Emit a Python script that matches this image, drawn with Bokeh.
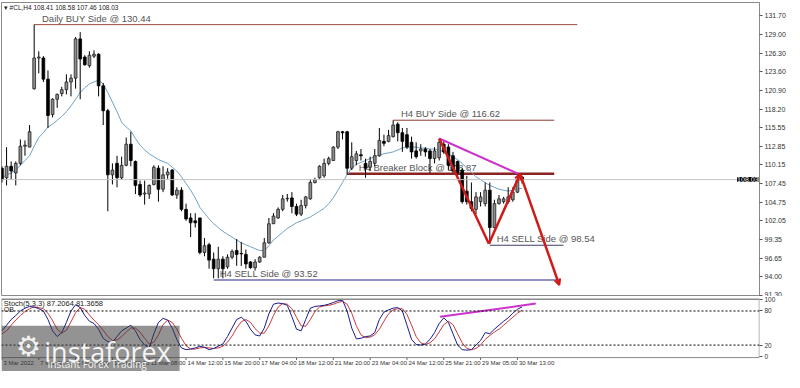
from bokeh.plotting import figure
from bokeh.models import (Range1d, FixedTicker, PrintfTickFormatter, Label, Span, Arrow,
                          OpenHead, ColumnDataSource, BoxAnnotation)
from bokeh.layouts import column
from bokeh.embed import file_html
from bokeh.resources import INLINE
from bokeh.core.properties import value

# ---------------- data ----------------
opens = [109.68, 108.30, 109.96, 108.99, 110.38, 112.87, 112.73, 121.18, 125.61, 125.61,
         122.56, 117.44, 119.65, 120.48, 121.04, 122.15, 122.70, 128.38, 125.75, 124.50,
         125.88, 126.16, 121.59, 117.99, 108.72, 110.38, 108.30, 110.10, 113.15, 110.65,
         107.33, 105.95, 105.95, 107.33, 109.68, 106.64, 108.72, 109.41, 105.81, 106.50,
         103.73, 102.49, 102.07, 102.49, 97.50, 98.61, 96.53, 95.15, 96.53, 95.42,
         96.81, 97.78, 97.36, 97.22, 96.12, 95.29, 96.12, 96.81, 98.89, 101.65,
         102.49, 103.73, 105.25, 105.39, 104.15, 103.04, 104.28, 105.25, 107.61, 108.30,
         108.58, 110.38, 110.79, 112.73, 114.95, 114.95, 109.68, 110.79, 111.62, 110.38,
         109.82, 110.38, 111.48, 113.56, 113.56, 114.25, 116.05, 114.81, 114.53, 113.42,
         112.18, 112.18, 112.45, 112.18, 111.07, 111.20, 113.15, 112.73, 111.48, 110.65,
         109.41, 106.36, 104.84, 103.73, 104.84, 104.56, 106.50, 101.10, 104.56, 104.84,
         104.84, 105.12, 106.22, 108.41]
highs = [109.96, 112.73, 110.65, 110.65, 113.84, 113.70, 115.92, 130.44, 126.58, 125.88,
         123.81, 119.79, 120.48, 121.45, 123.25, 123.25, 128.65, 129.35, 126.02, 126.58,
         126.72, 126.30, 122.01, 118.27, 110.38, 111.48, 111.35, 114.12, 114.95, 110.79,
         107.88, 107.88, 107.33, 110.10, 110.10, 109.96, 109.68, 109.55, 106.92, 106.92,
         104.56, 103.18, 103.18, 102.49, 99.58, 98.89, 97.50, 98.33, 96.95, 97.22,
         97.92, 99.44, 99.02, 97.92, 96.25, 96.53, 96.95, 99.58, 102.49, 103.18,
         104.01, 105.81, 105.95, 106.22, 104.56, 105.12, 105.67, 108.02, 108.30, 110.10,
         111.07, 111.35, 112.87, 115.08, 115.08, 115.08, 113.42, 112.18, 112.45, 111.07,
         111.35, 112.45, 115.50, 114.53, 115.22, 116.61, 116.33, 115.50, 115.50, 114.25,
         113.42, 113.15, 112.73, 112.45, 112.73, 113.84, 113.56, 113.15, 112.04, 110.79,
         109.68, 108.58, 107.61, 106.22, 106.22, 107.61, 107.61, 105.12, 105.81, 105.53,
         106.92, 106.92, 108.99, 108.58]
lows = [107.61, 107.19, 108.02, 107.19, 110.10, 111.48, 112.73, 121.04, 123.39, 122.15,
        115.50, 117.02, 118.41, 120.07, 120.35, 120.07, 121.18, 119.65, 124.50, 124.22,
        125.61, 120.07, 115.92, 103.45, 107.33, 106.92, 108.02, 109.96, 109.96, 105.95,
        105.53, 104.42, 105.25, 107.19, 104.84, 106.22, 108.16, 105.67, 105.25, 103.45,
        102.07, 99.72, 101.10, 97.22, 96.95, 95.15, 93.76, 93.76, 93.76, 95.15,
        96.53, 95.56, 95.56, 95.15, 95.15, 94.87, 95.98, 96.81, 98.75, 101.65,
        102.35, 103.45, 104.84, 103.18, 102.76, 102.76, 103.87, 105.12, 107.47, 108.16,
        108.30, 110.10, 110.79, 112.45, 113.84, 108.72, 109.41, 110.10, 110.79, 108.30,
        109.27, 109.96, 111.35, 112.87, 113.42, 114.12, 113.56, 112.04, 112.45, 111.07,
        111.07, 111.48, 111.35, 108.99, 110.38, 110.79, 111.76, 109.41, 108.99, 108.58,
        104.56, 104.42, 103.45, 103.04, 104.15, 104.15, 98.75, 100.96, 104.42, 104.56,
        104.56, 104.84, 106.08, 107.46]
closes = [108.02, 109.96, 109.27, 110.38, 112.87, 113.01, 114.95, 125.61, 125.75, 122.56,
          117.30, 119.65, 120.35, 121.04, 122.15, 122.70, 128.38, 125.47, 124.64, 126.02,
          126.16, 121.59, 117.99, 108.72, 109.41, 108.30, 110.10, 113.15, 110.79, 107.19,
          105.81, 106.08, 107.19, 109.82, 106.64, 108.72, 109.13, 105.81, 106.50, 103.73,
          102.35, 101.79, 101.79, 97.50, 98.47, 96.39, 95.15, 96.53, 95.15, 96.81,
          97.64, 97.22, 97.30, 95.84, 95.29, 96.12, 96.81, 98.89, 101.65, 102.76,
          103.73, 105.25, 105.32, 104.15, 103.04, 104.28, 105.53, 107.61, 108.02, 109.96,
          110.38, 111.07, 112.73, 114.95, 114.81, 109.68, 111.35, 111.76, 111.48, 109.68,
          110.65, 111.48, 113.70, 113.28, 114.39, 115.92, 114.81, 113.56, 112.73, 112.04,
          111.35, 112.45, 112.04, 111.07, 112.18, 113.42, 112.04, 110.10, 109.27, 108.99,
          104.84, 104.84, 103.87, 105.53, 105.53, 106.50, 101.10, 104.56, 105.25, 105.25,
          105.53, 106.22, 108.02, 108.03]
ma = [108.30, 108.72, 108.99, 109.41, 110.10, 110.79, 111.48, 112.87, 114.12, 114.81,
      115.64, 116.05, 116.61, 117.16, 117.85, 118.68, 119.65, 120.62, 121.32, 121.87,
      122.15, 122.42, 121.87, 120.62, 119.24, 117.85, 116.33, 115.64, 115.08, 113.98,
      113.01, 112.32, 111.76, 111.35, 110.93, 110.65, 110.38, 109.82, 109.27, 108.44,
      107.47, 106.50, 105.39, 104.01, 103.18, 102.35, 101.65, 101.10, 100.55, 100.13,
      99.72, 99.30, 98.89, 98.61, 98.33, 98.05, 97.78, 97.78, 98.47, 99.30,
      99.85, 100.41, 100.96, 101.38, 101.79, 102.07, 102.35, 102.62, 103.04, 103.45,
      103.87, 104.56, 105.39, 106.50, 107.61, 108.72, 109.68, 110.24, 110.52, 110.79,
      111.07, 111.35, 111.62, 111.76, 111.90, 112.04, 112.32, 112.59, 112.73, 112.73,
      112.73, 112.59, 112.59, 112.45, 112.45, 112.32, 112.04, 111.76, 111.35, 110.93,
      110.38, 109.68, 109.13, 108.44, 108.02, 107.61, 107.19, 106.92, 106.64, 106.50,
      106.36, 106.50, 106.64, 106.78]
stoch_k = [45, 55, 65, 72, 80, 85, 88, 87, 84, 80,
           65, 45, 35, 42, 60, 80, 91, 86, 72, 62,
           58, 48, 32, 26, 25, 35, 45, 50, 55, 45,
           30, 20, 15, 40, 60, 67, 64, 50, 30, 15,
           12, 13, 15, 18, 16, 12, 14, 18, 22, 35,
           50, 65, 69, 62, 48, 38, 36, 50, 75, 92,
           94, 93, 90, 70, 48, 45, 65, 85, 88, 89,
           90, 92, 95, 98, 99, 80, 50, 31, 32, 35,
           36, 42, 65, 78, 82, 85, 86, 80, 55, 30,
           21, 20, 22, 30, 42, 58, 68, 60, 40, 20,
           12, 11, 12, 20, 28, 42, 40, 48, 55, 62,
           68, 76, 83, 87.21]
stoch_d = [40, 45, 55, 64, 72, 79, 84, 87, 86, 84,
           76, 63, 48, 41, 46, 61, 77, 86, 83, 73,
           64, 56, 46, 35, 28, 29, 35, 43, 50, 50,
           43, 32, 22, 25, 38, 56, 64, 60, 48, 32,
           19, 13, 13, 15, 16, 15, 14, 15, 18, 25,
           36, 50, 61, 65, 60, 49, 41, 41, 54, 72,
           87, 93, 92, 84, 69, 54, 53, 65, 79, 87,
           89, 90, 92, 95, 97, 92, 76, 54, 38, 33,
           34, 38, 48, 62, 75, 82, 84, 84, 74, 55,
           35, 24, 21, 24, 31, 43, 56, 62, 56, 40,
           24, 14, 12, 14, 20, 30, 37, 43, 48, 55,
           62, 69, 76, 81.37]

price_ticks = [131.70, 129.00, 126.30, 123.60, 120.90, 118.20, 115.55, 112.85,
               110.15, 107.45, 104.75, 102.05, 99.35, 96.65, 94.00, 91.30]
stoch_ticks = [0, 20, 80, 100]
stoch_levels = [20, 80]
time_tick_idx = [0, 8, 16, 24, 32, 40, 48, 56, 64, 72, 80, 88, 96, 104, 112]
time_tick_labels = ["3 Mar 2022", "7 Mar 08:00", "8 Mar 16:00", "10 Mar 00:00",
                    "11 Mar 08:00", "14 Mar 12:00", "15 Mar 20:00", "17 Mar 04:00",
                    "18 Mar 12:00", "21 Mar 20:00", "23 Mar 04:00", "24 Mar 12:00",
                    "25 Mar 21:00", "29 Mar 05:00", "30 Mar 13:00"]

level_names = ["Daily BUY Side  @ 130.44", "H4 BUY Side @ 116.62", "H4 Breaker Block @ 108.87",
               "H4 SELL Side @ 98.54", "H4 SELL Side @ 93.52"]
level_prices = [130.44, 116.62, 108.87, 98.54, 93.52]
level_start = [7, 85, 75, 106, 46]
level_end = [125, 120, 120, 122, 121.3]

zigzag_x = [95.0, 105.8, 112.6, 121.1]
zigzag_y = [113.98, 98.75, 108.85, 92.79]
trend_x = [95.0, 112.2]
trend_y = [113.98, 108.87]
stoch_trend_x = [95.2, 116.0]
stoch_trend_y = [70, 93]

# ---------------- styles ----------------
FONT = "Liberation Sans"
level_colors = ["#9a4a3c", "#8e3b35", "#8b2323", "#3d3d6b", "#6c6cb0"]
level_widths = [1, 1, 2.5, 1, 1.5]
label_shift = [1.7, 1.7, 2.5, 1.5, 1.3]
RED = "#d01a1a"
MAG = "#cc33cc"
BORDER = "#8a8a8a"

n = len(closes)
idx = list(range(n))
bull = [c >= o for o, c in zip(opens, closes)]
src_bull = ColumnDataSource(dict(x=[i for i in idx if bull[i]],
                                 top=[closes[i] for i in idx if bull[i]],
                                 bottom=[opens[i] for i in idx if bull[i]]))
src_bear = ColumnDataSource(dict(x=[i for i in idx if not bull[i]],
                                 top=[opens[i] for i in idx if not bull[i]],
                                 bottom=[closes[i] for i in idx if not bull[i]]))

FW = 758
X0, X1 = -0.1, 164.6
x_range = Range1d(X0, X1)

p = figure(frame_width=FW, frame_height=294, x_range=x_range, y_range=Range1d(91.13, 133.64),
           y_axis_location="right", x_axis_location=None, output_backend="svg",
           toolbar_location=None, min_border=0, min_border_left=1, min_border_top=2,
           min_border_bottom=0)
p.grid.visible = False
p.outline_line_color = BORDER
p.background_fill_color = "white"

ax = p.yaxis[0]
ax.ticker = FixedTicker(ticks=price_ticks)
ax.formatter = PrintfTickFormatter(format="%.2f")
ax.major_label_text_font = FONT
ax.major_label_text_font_size = "7px"
ax.major_label_text_color = "#333333"
ax.axis_line_color = BORDER
ax.major_tick_line_color = "#555555"
ax.major_tick_out = 3
ax.major_tick_in = 0
ax.minor_tick_out = 0
ax.minor_tick_in = 0
ax.major_label_standoff = 2

# current price line
p.add_layout(Span(location=closes[-1], dimension="width", line_color="#c4c4c4", line_width=1))

# level labels (drawn under candles)
p.text(x=[s + d for s, d in zip(level_start, label_shift)], y=level_prices, text=level_names,
       text_font=value(FONT), text_font_size="9.5px", text_color="#555555",
       text_baseline="bottom", y_offset=-1)

# level lines
p.segment(x0=level_start, y0=level_prices, x1=level_end, y1=level_prices,
          line_color=level_colors, line_width=level_widths)

# MA
p.line(idx, ma, line_color="#6fa2c4", line_width=1)

# candles
p.segment(x0=idx, y0=highs, x1=idx, y1=lows, line_color="black", line_width=1)
p.vbar(x="x", top="top", bottom="bottom", width=0.6, source=src_bull,
       fill_color="#8c8c8c", line_color="#222222", line_width=0.8)
p.vbar(x="x", top="top", bottom="bottom", width=0.6, source=src_bear,
       fill_color="black", line_color="black", line_width=0.8)

# drawings
p.line(trend_x, trend_y, line_color=MAG, line_width=2)
p.line(zigzag_x[:2], zigzag_y[:2], line_color=RED, line_width=2.5)
p.add_layout(Arrow(start=None, end=OpenHead(size=6, line_color=RED, line_width=2),
                   x_start=zigzag_x[1], y_start=zigzag_y[1], x_end=zigzag_x[2], y_end=zigzag_y[2],
                   line_color=RED, line_width=2.5))
p.add_layout(Arrow(start=None, end=OpenHead(size=6, line_color=RED, line_width=2),
                   x_start=zigzag_x[2], y_start=zigzag_y[2], x_end=zigzag_x[3], y_end=zigzag_y[3],
                   line_color=RED, line_width=2.5))

# header
p.add_layout(Label(x=0.4, y=133.45, text="\u25be #CL,H4  108.41 108.58 107.46 108.03",
                   text_font=FONT, text_font_size="6.5px", text_color="#222222",
                   text_baseline="top"))

# current price box (at the right edge of the price panel)
p.add_layout(Label(x=X1, y=closes[-1], x_offset=-1, text="108.03", text_font=FONT,
                   text_font_size="7px", text_color="white", text_baseline="middle",
                   text_align="right", background_fill_color="black",
                   background_fill_alpha=1.0))

# ---------------- stochastic panel (time labels drawn inside its lower strip) ----------------
S_BOTTOM = -26.5
s = figure(frame_width=FW, frame_height=73, x_range=x_range, y_range=Range1d(S_BOTTOM, 102),
           y_axis_location="right", x_axis_location=None, output_backend="svg",
           toolbar_location=None, min_border=0, min_border_left=1, min_border_top=2,
           min_border_bottom=0)
s.grid.visible = False
s.outline_line_color = None

# panel borders
s.add_layout(Span(location=-2, dimension="width", line_color=BORDER, line_width=1))
s.add_layout(Span(location=102, dimension="width", line_color=BORDER, line_width=3))
s.segment(x0=[X0 + 0.05, X1 - 0.05], y0=[-2, -2], x1=[X0 + 0.05, X1 - 0.05], y1=[102, 102],
          line_color=BORDER, line_width=1)

for lv in stoch_levels:
    s.add_layout(Span(location=lv, dimension="width", line_color="black",
                      line_dash="2 2", line_width=1))
s.line(idx, stoch_d, line_color="#cc3a3a", line_width=1)
s.line(idx, stoch_k, line_color="#1c1c8c", line_width=1)
s.line(stoch_trend_x, stoch_trend_y, line_color=MAG, line_width=2)

sy = s.yaxis[0]
sy.ticker = FixedTicker(ticks=stoch_ticks)
sy.major_label_text_font = FONT
sy.major_label_text_font_size = "6.5px"
sy.major_label_text_color = "#333333"
sy.axis_line_color = None
sy.major_tick_line_color = "#555555"
sy.major_tick_out = 3
sy.major_tick_in = 0
sy.minor_tick_out = 0
sy.minor_tick_in = 0
sy.major_label_standoff = 2

# time axis: tick marks and labels
s.segment(x0=time_tick_idx, y0=[-2] * len(time_tick_idx), x1=time_tick_idx,
          y1=[-6] * len(time_tick_idx), line_color="#555555", line_width=1)
s.text(x=time_tick_idx, y=[-5.5] * len(time_tick_idx), text=time_tick_labels,
       text_font=value(FONT), text_font_size="6px", text_color="#333333",
       text_align="left", text_baseline="top", x_offset=1.5)

s.add_layout(Label(x=0.4, y=101, text="Stoch(5,3,3) 87.2064 81.3658", text_font=FONT,
                   text_font_size="7.5px", text_color="#222222", text_baseline="top"))
s.add_layout(Label(x=0.4, y=88, text="OB", text_font=FONT,
                   text_font_size="7px", text_color="#222222", text_baseline="top"))

# instaforex watermark
s.add_layout(BoxAnnotation(left=X0, right=38.6, bottom=S_BOTTOM, top=54,
                           fill_color="#3a3a3a", fill_alpha=0.55, line_alpha=0))
s.add_layout(Label(x=3.0, y=18, text="\u2699", text_font="DejaVu Sans",
                   text_font_size="28px", text_color="white", text_alpha=0.9,
                   text_baseline="middle"))
s.add_layout(Label(x=9.2, y=8, text="instaforex", text_font="Open Sans",
                   text_font_size="27px", text_color="white", text_alpha=0.92,
                   text_baseline="alphabetic"))
s.add_layout(Label(x=9.9, y=-14, text="Instant Forex Trading", text_font="Open Sans",
                   text_font_size="10px", text_color="white", text_alpha=0.92,
                   text_baseline="alphabetic"))

layout = column(p, s)
open("out.html", "w").write(file_html(layout, INLINE))
